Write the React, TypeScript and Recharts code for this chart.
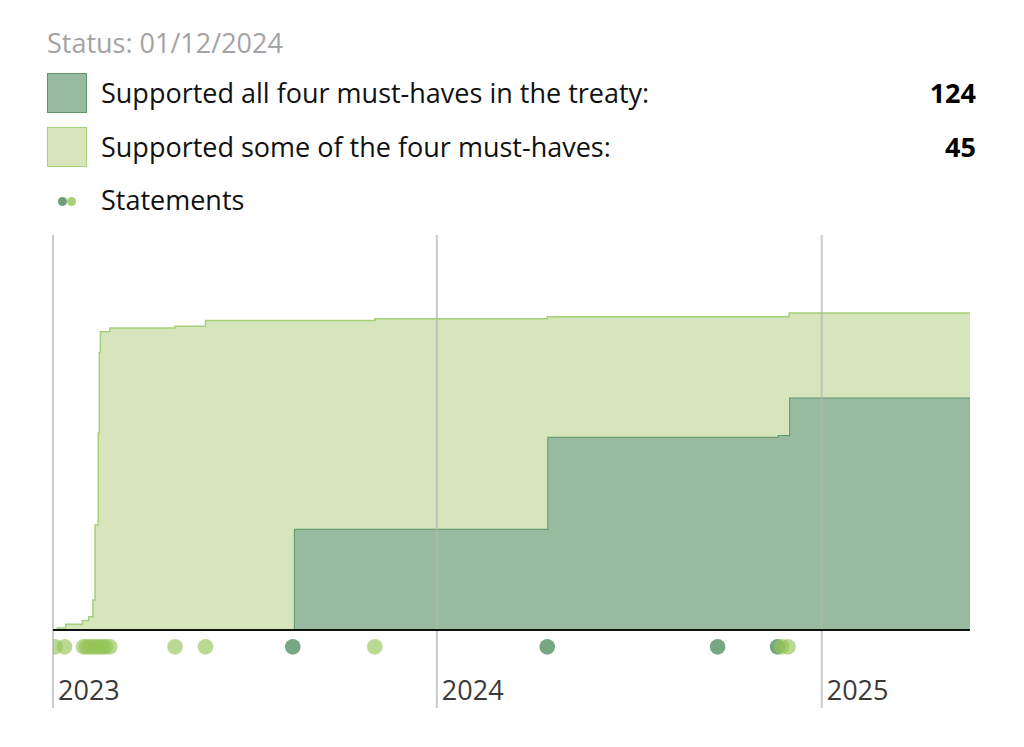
import React from "react";
import { ComposedChart, Area, Scatter, XAxis, YAxis, ReferenceLine } from "recharts";

// ---- data ----
const statusLabel = "Status: 01/12/2024";
const legendLabels = [
  "Supported all four must-haves in the treaty:",
  "Supported some of the four must-haves:",
  "Statements",
];
const legendValues = ["124", "45"];

const stepDates = [
  "2023-01-01", "2023-01-05", "2023-01-13", "2023-01-29", "2023-02-04",
  "2023-02-08", "2023-02-10", "2023-02-13", "2023-02-14", "2023-02-15",
  "2023-02-24", "2023-04-27", "2023-05-26", "2023-08-18", "2023-11-03",
  "2024-04-15", "2024-11-20", "2024-12-01", "2025-05-22",
];
// countries that supported all four must-haves (cumulative)
const allFour = [0, 0, 0, 0, 0, 0, 0, 0, 0, 0, 0, 0, 0, 54, 54, 103, 104, 124, 124];
// countries that supported at least some of the must-haves (cumulative total)
const totalSupport = [0, 1, 3, 5, 7, 16, 56, 105, 148, 159, 161, 162, 165, 165, 166, 167, 167, 169, 169];

const statementsSome = [
  "2023-01-03", "2023-01-12", "2023-01-30", "2023-02-02", "2023-02-05", "2023-02-08",
  "2023-02-11", "2023-02-14", "2023-02-17", "2023-02-20", "2023-02-24", "2023-04-27",
  "2023-05-26", "2023-11-03", "2024-11-24", "2024-11-30",
];
const statementsAll = ["2023-08-17", "2024-04-15", "2024-09-24", "2024-11-20"];
const statementLane = -9;

const yearTicks = ["2023-01-01", "2024-01-01", "2025-01-01"];
const yearLabels = ["2023", "2024", "2025"];
const xStart = "2023-01-01";
const xEnd = "2025-05-22";
const yDomain: [number, number] = [-41.6, 210.6];

// ---- helpers ----
const ts = (d: string) => Date.parse(d + "T00:00:00Z");

const areaData = stepDates.map((d, i) => ({
  t: ts(d),
  all: allFour[i],
  some: totalSupport[i] - allFour[i],
}));
const someDots = statementsSome.map((d) => ({ t: ts(d), v: statementLane }));
const allDots = statementsAll.map((d) => ({ t: ts(d), v: statementLane }));

const FONT = "'Open Sans', 'Noto Sans', sans-serif";
const FS = 27;

const DARK_FILL = "#98bba0";
const DARK_STROKE = "#5e966a";
const LIGHT_FILL = "#d6e5bb";
const LIGHT_STROKE = "#a6d07a";

const YearTick = (props: any) => {
  const { x, payload } = props;
  const idx = yearTicks.map(ts).indexOf(payload.value);
  return (
    <text x={x + 5} y={692} fill="#3a3a3a" fontSize={FS} fontFamily={FONT} textAnchor="start">
      {idx >= 0 ? yearLabels[idx] : ""}
    </text>
  );
};

const dotShape = (color: string) => (p: any) => (
  <circle cx={p.cx} cy={p.cy} r={7.8} fill={color} fillOpacity={0.65} />
);

const textStyle = (top: number, extra: React.CSSProperties = {}): React.CSSProperties => ({
  position: "absolute",
  top,
  fontSize: FS,
  lineHeight: `${FS}px`,
  whiteSpace: "nowrap",
  ...extra,
});

export default function App() {
  return (
    <div style={{ position: "relative", width: 1008, height: 731, fontFamily: FONT }}>
      <div style={{ position: "absolute", left: 0, top: 0 }}>
        <ComposedChart
          width={1008}
          height={731}
          data={areaData}
          margin={{ top: 227, right: 46, bottom: 1, left: 45 }}
        >
          <XAxis
            dataKey="t"
            type="number"
            domain={[ts(xStart), ts(xEnd)]}
            allowDataOverflow
            ticks={yearTicks.map(ts)}
            tick={<YearTick />}
            axisLine={false}
            tickLine={false}
            height={30}
            interval={0}
          />
          <YAxis type="number" domain={yDomain} allowDataOverflow hide />
          <Area
            type="stepAfter"
            dataKey="all"
            stackId="s"
            fill={DARK_FILL}
            fillOpacity={1}
            stroke={DARK_STROKE}
            strokeWidth={2}
            isAnimationActive={false}
            dot={false}
            activeDot={false}
          />
          <Area
            type="stepAfter"
            dataKey="some"
            stackId="s"
            fill={LIGHT_FILL}
            fillOpacity={1}
            stroke={LIGHT_STROKE}
            strokeWidth={1.5}
            isAnimationActive={false}
            dot={false}
            activeDot={false}
          />
          {yearTicks.map((d) => (
            <ReferenceLine key={d} x={ts(d)} stroke="#b4b4b4" strokeOpacity={0.7} strokeWidth={2} />
          ))}
          <ReferenceLine y={0} stroke="#111" strokeWidth={2} />
          <Scatter data={allDots} dataKey="v" fill="#2e763f" shape={dotShape("#2e763f")} isAnimationActive={false} />
          <Scatter data={someDots} dataKey="v" fill="#95c457" shape={dotShape("#95c457")} isAnimationActive={false} />
        </ComposedChart>
      </div>

      <div style={textStyle(21, { left: 39, color: "#a3a3a3" })}>{statusLabel}</div>

      <div style={{ position: "absolute", left: 38.5, top: 64.5, width: 40, height: 40, boxSizing: "border-box", background: DARK_FILL, border: `1.5px solid ${DARK_STROKE}` }} />
      <div style={textStyle(71, { left: 93, color: "#111" })}>{legendLabels[0]}</div>
      <div style={textStyle(71, { right: 1008 - 968, color: "#000", fontWeight: 700 })}>{legendValues[0]}</div>

      <div style={{ position: "absolute", left: 38.5, top: 118.5, width: 40, height: 40, boxSizing: "border-box", background: LIGHT_FILL, border: `1.5px solid ${LIGHT_STROKE}` }} />
      <div style={textStyle(125, { left: 93, color: "#111" })}>{legendLabels[1]}</div>
      <div style={textStyle(125, { right: 1008 - 968, color: "#000", fontWeight: 700 })}>{legendValues[1]}</div>

      <div style={{ position: "absolute", left: 49.5, top: 188.5, width: 9, height: 9, borderRadius: "50%", background: "#6d9e78" }} />
      <div style={{ position: "absolute", left: 58.5, top: 188.5, width: 9, height: 9, borderRadius: "50%", background: "#a8d07c" }} />
      <div style={textStyle(178, { left: 93, color: "#111" })}>{legendLabels[2]}</div>
    </div>
  );
}
